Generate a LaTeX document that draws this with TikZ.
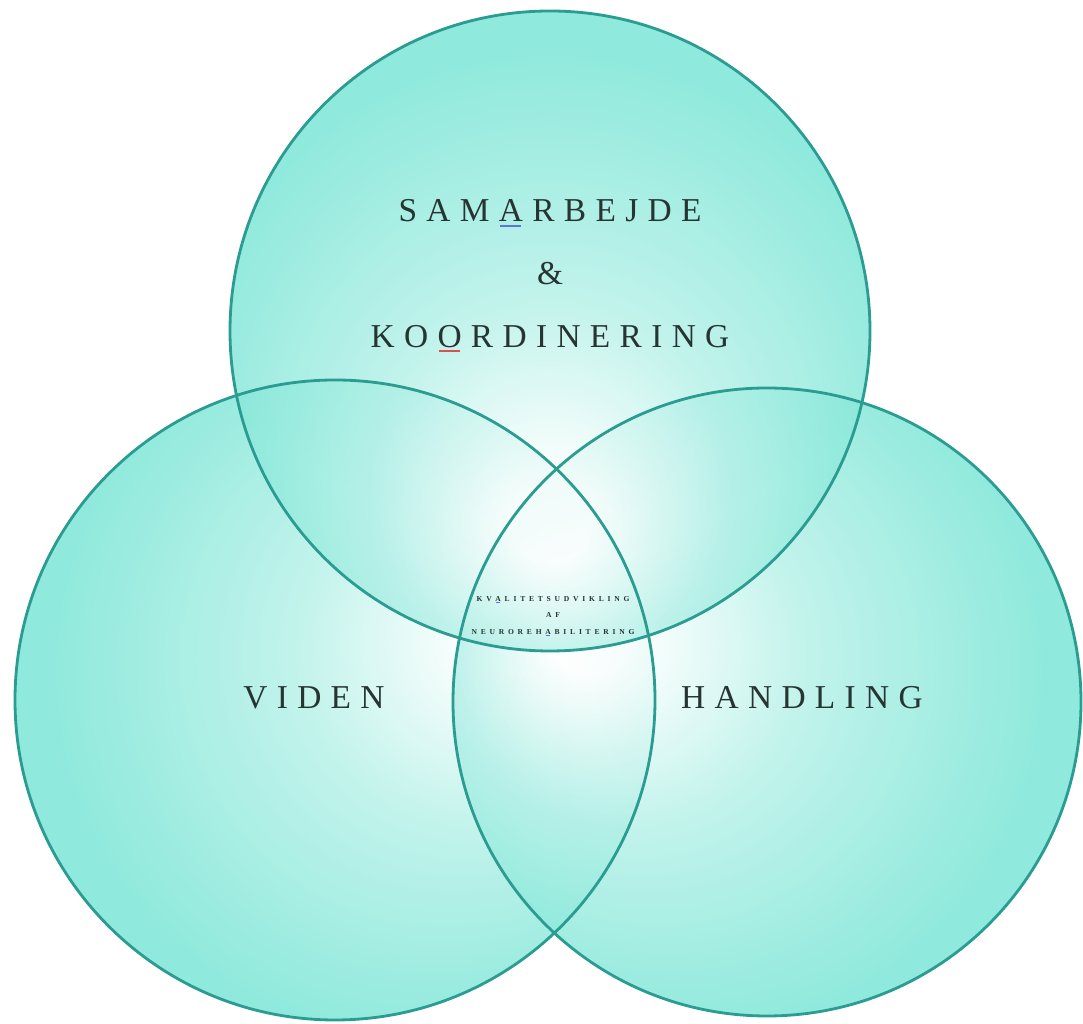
\documentclass[tikz,border=0pt]{standalone}
\usepackage{fontspec}
\setmainfont{Liberation Serif}
\definecolor{venn}{RGB}{118,228,212}
\definecolor{vennline}{RGB}{42,156,146}
\definecolor{ink}{RGB}{38,52,50}
\definecolor{spellblue}{RGB}{90,120,220}
\definecolor{spellred}{RGB}{220,80,80}
% light spot sits toward the middle of the diagram
\pgfdeclareradialshading{vennglow}{\pgfpoint{0bp}{-16bp}}{color(0bp)=(white); color(3bp)=(white); color(14bp)=(venn!55!white); color(29bp)=(venn); color(50bp)=(venn)}
% spelling mark under one letter (#2 = letter spacing lost at the break)
\newcommand\spellmark[3]{\kern#2\rlap{\kern.04em\textcolor{#1}{\rule[-.16em]{.62em}{.07em}}}#3}
\tikzset{venntext/.style={text=ink,font=\fontsize{19}{35.7}\selectfont\addfontfeature{LetterSpace=28}}}
\begin{document}
\begin{tikzpicture}[x=0.02cm,y=0.02cm]
\useasboundingbox (0,0) rectangle (1083,1024);
\foreach \cx/\cy/\r/\ang in {335/324/320/110,767/322/314/-110,550/693/320/0}{
 \shade[shading=vennglow,shading angle=\ang,fill opacity=.82] (\cx,\cy) circle (\r);
}
\foreach \cx/\cy/\r in {335/324/320,767/322/314,550/693/320}{
 \draw[vennline,line width=1.6pt] (\cx,\cy) circle (\r);
}
\node[venntext,align=center] (samarbejde) at (550,748) {SAM\spellmark{spellblue}{.28em}{A}RBEJDE\\\&\\KO\spellmark{spellred}{.28em}{O}RDINERING};
\node[venntext] (viden) at (314,326) {VIDEN};
\node[venntext] (handling) at (802,326) {HANDLING};
\node[text=ink,align=center,font=\fontsize{4.3}{9.2}\selectfont\bfseries\addfontfeature{LetterSpace=50}] (kvalitet) at (553,408) {KV\spellmark{spellblue}{.5em}{A}LITETSUDVIKLING\\AF\\NEUROREH\spellmark{spellblue}{.5em}{A}BILITERING};
\end{tikzpicture}
\end{document}
